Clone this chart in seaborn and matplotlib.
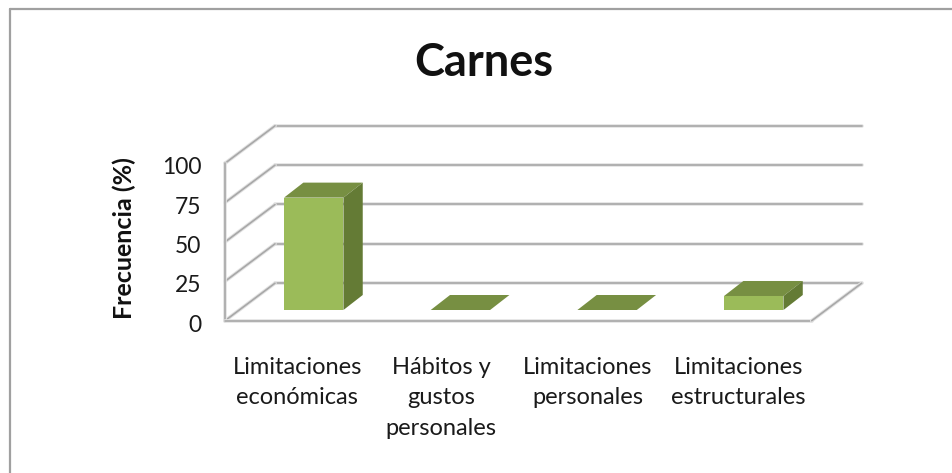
import matplotlib
matplotlib.use("Agg")
import matplotlib.pyplot as plt
import matplotlib.patheffects as pe
from matplotlib.lines import Line2D
from matplotlib.patches import Polygon
from matplotlib.transforms import ScaledTranslation
import pandas as pd
import seaborn as sns

categories = ["Limitaciones\neconómicas", "Hábitos y\ngustos\npersonales",
              "Limitaciones\npersonales", "Limitaciones\nestructurales"]
values = [71.4, 0, 0, 8.9]
y_ticks = [0, 25, 50, 75, 100]
title = "Carnes"
y_label = "Frecuencia (%)"

FRONT, TOP, SIDE = "#9BBB59", "#778F42", "#647B35"
GRID = "#A8A8A8"
W, H = 953, 473

sns.set_theme(style="white")
plt.rcParams["font.family"] = ["Lato", "DejaVu Sans"]

fig = plt.figure(figsize=(W / 100, H / 100), dpi=100, facecolor="white")


def place(left, right, bottom, top):
    return [left / W, 1 - bottom / H, (right - left) / W, (bottom - top) / H]


# Front plane of the chart box (ticks and labels) and the plane of the bars' faces
front = fig.add_axes(place(225, 811.7, 320.7, 163.3), facecolor="none")
bars = fig.add_axes(place(240.4, 827.1, 310, 152.6), facecolor="none")

df = pd.DataFrame({"cat": categories, "val": values})
sns.barplot(data=df, x="cat", y="val", ax=bars, color=FRONT, saturation=1,
            width=0.405, edgecolor="none", zorder=3)
bars.set_xlim(-0.5, 3.5)
bars.set_ylim(0, 100)
bars.axis("off")

# Depth in data units (category units, percentage units)
DX_FULL, DY_FULL = 50 / 146.67, 37.5 / 1.574
DX_BAR, DY_BAR = 19.3 / 146.67, 15 / 1.574

front.set_xlim(-0.5, 3.5)
front.set_ylim(0, 100)
line_kw = dict(color=GRID, lw=1.2, clip_on=False, solid_capstyle="round",
               path_effects=[pe.Stroke(linewidth=2.6, foreground="#E2E2E2"), pe.Normal()])

for v in y_ticks:
    front.plot([-0.5 + DX_FULL, 3.5 + DX_FULL], [v + DY_FULL, v + DY_FULL], **line_kw)
    front.plot([-0.5, -0.5 + DX_FULL], [v, v + DY_FULL], **line_kw)
front.plot([-0.5, -0.5], [0, 100], **line_kw)
front.plot([-0.5, 3.5], [0, 0], **line_kw)
front.plot([3.5, 3.5 + DX_FULL], [0, DY_FULL], **line_kw)

# Top and side faces derived from each bar
for p in bars.patches:
    x0, w, h = p.get_x(), p.get_width(), p.get_height()
    x1 = x0 + w
    bars.add_patch(Polygon([(x0, h), (x1, h), (x1 + DX_BAR, h + DY_BAR), (x0 + DX_BAR, h + DY_BAR)],
                           closed=True, fc=TOP, ec="none", zorder=3, clip_on=False))
    if h > 0:
        bars.add_patch(Polygon([(x1, 0), (x1 + DX_BAR, DY_BAR), (x1 + DX_BAR, h + DY_BAR), (x1, h)],
                               closed=True, fc=SIDE, ec="none", zorder=3, clip_on=False))

for s in front.spines.values():
    s.set_visible(False)
front.set_yticks(y_ticks)
front.set_xticks(range(len(categories)))
front.set_xticklabels(categories, fontsize=17, color="#1A1A1A", linespacing=1.55,
                      va="top")
front.tick_params(axis="y", length=0, pad=17, labelsize=16.5, labelcolor="#1A1A1A")
front.tick_params(axis="x", length=0, pad=26)
front.set_xlabel("")
for lbl in front.get_yticklabels():
    lbl.set_transform(lbl.get_transform() + ScaledTranslation(0, -2.5 / 100, fig.dpi_scale_trans))
for lbl, shift in zip(front.get_xticklabels(), [-1, -4, -4, 0]):
    lbl.set_transform(lbl.get_transform() + ScaledTranslation(shift / 100, 0, fig.dpi_scale_trans))
fig.text(124 / W, 1 - 238 / H, y_label, rotation=90, ha="center", va="center",
         fontsize=18, fontweight="bold", color="#111111")
fig.text(484 / W, 1 - 62.5 / H, title, ha="center", va="center",
         fontsize=32.5, fontweight="bold", color="#111111")

# Chart-area border
for xs, ys in [([10, 10], [9, H]), ([10, W], [9, 9])]:
    fig.add_artist(Line2D([x / W for x in xs], [1 - y / H for y in ys],
                          color="#A0A0A0", lw=1.6))

fig.savefig("out.png", dpi=100, facecolor="white")
